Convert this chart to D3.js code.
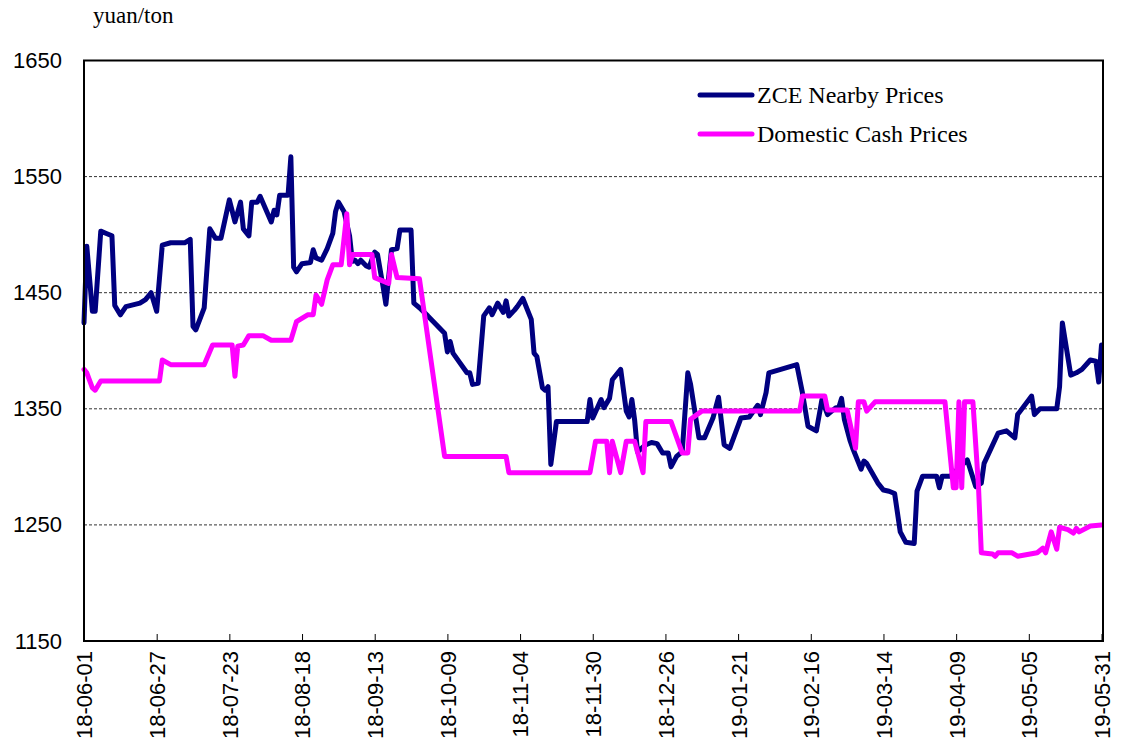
<!DOCTYPE html>
<html lang="en">
<head>
    <meta charset="UTF-8">
    <title>ZCE Nearby vs Domestic Cash Prices</title>
    <script src="https://d3js.org/d3.v7.min.js"></script>
    <style>
        body { margin: 0; background: #fff; }
        .tick-label { font-family: Arial, "Liberation Sans", sans-serif; font-size: 22px; fill: #000; }
        .serif { font-family: "Times New Roman", "Liberation Serif", serif; fill: #000; }
    </style>
</head>
<body>
<script>
    // ZCE nearby futures prices (yuan/ton)
    const zceDates = [
        "2018-06-01","2018-06-02","2018-06-04","2018-06-05","2018-06-07","2018-06-09","2018-06-11","2018-06-12",
        "2018-06-14","2018-06-16","2018-06-21","2018-06-23","2018-06-25","2018-06-27","2018-06-29","2018-07-02",
        "2018-07-07","2018-07-09","2018-07-10","2018-07-11","2018-07-14","2018-07-16","2018-07-18","2018-07-20",
        "2018-07-23","2018-07-25","2018-07-27","2018-07-28","2018-07-30","2018-07-31","2018-08-02","2018-08-03",
        "2018-08-07","2018-08-08","2018-08-09","2018-08-10","2018-08-13","2018-08-14","2018-08-15","2018-08-16",
        "2018-08-18","2018-08-21","2018-08-22","2018-08-23","2018-08-25","2018-08-27","2018-08-29","2018-08-30",
        "2018-08-31","2018-09-02","2018-09-04","2018-09-05","2018-09-06","2018-09-07","2018-09-08","2018-09-10",
        "2018-09-11","2018-09-13","2018-09-14","2018-09-16","2018-09-17","2018-09-19","2018-09-21","2018-09-22",
        "2018-09-26","2018-09-27","2018-09-29","2018-10-02","2018-10-08","2018-10-09","2018-10-10","2018-10-11",
        "2018-10-16","2018-10-17","2018-10-18","2018-10-20","2018-10-22","2018-10-24","2018-10-25","2018-10-27",
        "2018-10-29","2018-10-30","2018-10-31","2018-11-02","2018-11-03","2018-11-05","2018-11-08","2018-11-09",
        "2018-11-10","2018-11-12","2018-11-13","2018-11-14","2018-11-15","2018-11-17","2018-11-28","2018-11-29",
        "2018-11-30","2018-12-03","2018-12-04","2018-12-06","2018-12-07","2018-12-10","2018-12-12","2018-12-13",
        "2018-12-14","2018-12-15","2018-12-16","2018-12-19","2018-12-21","2018-12-23","2018-12-25","2018-12-27",
        "2018-12-28","2018-12-30","2019-01-01","2019-01-03","2019-01-04","2019-01-07","2019-01-09","2019-01-12",
        "2019-01-14","2019-01-16","2019-01-18","2019-01-22","2019-01-25","2019-01-28","2019-01-29","2019-01-31",
        "2019-02-01","2019-02-11","2019-02-13","2019-02-15","2019-02-18","2019-02-20","2019-02-22","2019-02-25",
        "2019-02-26","2019-02-27","2019-02-28","2019-03-02","2019-03-03","2019-03-06","2019-03-07","2019-03-08",
        "2019-03-12","2019-03-14","2019-03-16","2019-03-18","2019-03-20","2019-03-22","2019-03-25","2019-03-26",
        "2019-03-28","2019-04-02","2019-04-03","2019-04-04","2019-04-07","2019-04-13","2019-04-16","2019-04-18",
        "2019-04-19","2019-04-24","2019-04-27","2019-04-30","2019-05-01","2019-05-06","2019-05-07","2019-05-09",
        "2019-05-15","2019-05-16","2019-05-17","2019-05-20","2019-05-22","2019-05-24","2019-05-27","2019-05-29",
        "2019-05-30","2019-05-31"
    ];
    const zcePrices = [
        1424,1490,1434,1434,1503,1501,1499,1439,
        1431,1438,1441,1444,1450,1434,1491,1493,
        1493,1496,1421,1418,1437,1505,1497,1497,
        1530,1511,1528,1505,1499,1528,1528,1533,
        1511,1521,1517,1534,1534,1567,1472,1468,
        1475,1476,1487,1480,1478,1488,1501,1520,
        1528,1520,1499,1477,1478,1475,1478,1473,
        1472,1485,1483,1455,1440,1487,1488,1504,
        1504,1441,1437,1430,1415,1399,1408,1398,
        1381,1381,1371,1372,1430,1437,1431,1441,
        1433,1443,1430,1435,1438,1445,1427,1398,
        1395,1368,1366,1369,1302,1339,1339,1358,
        1342,1358,1351,1359,1375,1384,1348,1343,
        1358,1340,1313,1319,1321,1320,1312,1312,
        1300,1309,1313,1381,1371,1325,1325,1342,
        1360,1319,1316,1342,1343,1353,1345,1364,
        1381,1388,1364,1335,1331,1358,1345,1351,
        1351,1359,1341,1323,1316,1298,1305,1303,
        1286,1280,1279,1277,1244,1235,1234,1279,
        1292,1292,1282,1292,1292,1306,1283,1286,
        1303,1329,1331,1325,1345,1361,1345,1350,
        1350,1369,1424,1379,1381,1384,1392,1391,
        1373,1405
    ];

    // Domestic cash prices (yuan/ton)
    const cashDates = [
        "2018-06-01","2018-06-02","2018-06-04","2018-06-05","2018-06-07","2018-06-28","2018-06-29","2018-07-02",
        "2018-07-14","2018-07-17","2018-07-24","2018-07-25","2018-07-26","2018-07-28","2018-07-30","2018-08-04",
        "2018-08-07","2018-08-14","2018-08-16","2018-08-20","2018-08-22","2018-08-23","2018-08-25","2018-08-27",
        "2018-08-29","2018-09-01","2018-09-03","2018-09-04","2018-09-05","2018-09-12","2018-09-13","2018-09-18",
        "2018-09-19","2018-09-21","2018-09-29","2018-10-08","2018-10-30","2018-10-31","2018-11-29","2018-12-01",
        "2018-12-05","2018-12-06","2018-12-07","2018-12-10","2018-12-12","2018-12-15","2018-12-18","2018-12-19",
        "2018-12-28","2019-01-01","2019-01-03","2019-01-04","2019-01-08","2019-02-12","2019-02-13","2019-02-21",
        "2019-02-22","2019-03-01","2019-03-04","2019-03-05","2019-03-07","2019-03-08","2019-03-11","2019-04-05",
        "2019-04-08","2019-04-09","2019-04-10","2019-04-11","2019-04-12","2019-04-15","2019-04-17","2019-04-18",
        "2019-04-22","2019-04-23","2019-04-24","2019-04-29","2019-05-01","2019-05-08","2019-05-10","2019-05-11",
        "2019-05-13","2019-05-15","2019-05-16","2019-05-19","2019-05-21","2019-05-22","2019-05-23","2019-05-27",
        "2019-05-31"
    ];
    const cashPrices = [
        1384,1381,1368,1366,1374,1374,1392,1388,
        1388,1405,1405,1378,1404,1405,1413,1413,
        1409,1409,1425,1431,1431,1448,1440,1461,
        1474,1474,1518,1474,1483,1483,1463,1458,
        1483,1463,1462,1309,1309,1295,1295,1322,
        1322,1295,1322,1295,1322,1322,1295,1339,
        1339,1312,1312,1341,1348,1348,1361,1361,
        1349,1349,1316,1356,1356,1348,1356,1356,
        1282,1282,1356,1282,1356,1356,1283,1226,
        1225,1223,1226,1226,1223,1226,1230,1226,
        1244,1229,1248,1246,1243,1247,1244,1249,
        1250
    ];

    const xTickDates = [
        "2018-06-01","2018-06-27","2018-07-23","2018-08-18","2018-09-13","2018-10-09","2018-11-04","2018-11-30",
        "2018-12-26","2019-01-21","2019-02-16","2019-03-14","2019-04-09","2019-05-05","2019-05-31"
    ];
    const yTicks = [1150, 1250, 1350, 1450, 1550, 1650];
    const gridValues = [1250, 1350, 1450, 1550];

    const seriesNames = ["ZCE Nearby Prices", "Domestic Cash Prices"];
    const seriesColors = ["#000080", "#ff00ff"];

    const width = 1121, height = 749;
    const plot = {left: 84, right: 1103, top: 60.5, bottom: 641};

    const parse = d3.timeParse("%Y-%m-%d");
    const fmt = d3.timeFormat("%y-%m-%d");

    const svg = d3.select("body").append("svg")
        .attr("width", width)
        .attr("height", height);

    const x = d3.scaleTime()
        .domain([parse("2018-06-01"), parse("2019-05-31")])
        .range([plot.left, 1101.5]);

    const y = d3.scaleLinear()
        .domain([1150, 1650])
        .range([plot.bottom, plot.top]);

    // dotted gridlines
    svg.append("g")
        .selectAll("line")
        .data(gridValues)
        .join("line")
        .attr("x1", plot.left)
        .attr("x2", plot.right)
        .attr("y1", d => y(d))
        .attr("y2", d => y(d))
        .attr("stroke", "#333")
        .attr("stroke-width", 1)
        .attr("stroke-dasharray", "3,2");

    // series lines
    const line = d3.line()
        .x(d => x(d.date))
        .y(d => y(d.value));

    const zce = zceDates.map((d, i) => ({date: parse(d), value: zcePrices[i]}));
    const cash = cashDates.map((d, i) => ({date: parse(d), value: cashPrices[i]}));

    [zce, cash].forEach((data, i) => {
        svg.append("path")
            .datum(data)
            .attr("d", line)
            .attr("fill", "none")
            .attr("stroke", seriesColors[i])
            .attr("stroke-width", 5)
            .attr("stroke-linejoin", "round")
            .attr("stroke-linecap", "round");
    });

    // plot frame
    svg.append("rect")
        .attr("x", plot.left)
        .attr("y", plot.top)
        .attr("width", plot.right - plot.left)
        .attr("height", plot.bottom - plot.top)
        .attr("fill", "none")
        .attr("stroke", "#000")
        .attr("stroke-width", 2);

    // x axis: inward ticks, rotated labels
    const xAxis = d3.axisBottom(x)
        .tickValues(xTickDates.map(parse))
        .tickSizeInner(-7)
        .tickSizeOuter(0)
        .tickFormat(fmt);

    const gx = svg.append("g")
        .attr("transform", `translate(0,${plot.bottom})`)
        .call(xAxis);
    gx.select(".domain").remove();
    gx.selectAll(".tick line").attr("stroke", "#000").attr("stroke-width", 1);
    gx.selectAll(".tick text")
        .attr("class", "tick-label")
        .attr("transform", "rotate(-90)")
        .attr("x", -10)
        .attr("y", 0)
        .attr("dy", "0.36em")
        .style("text-anchor", "end");

    // y axis labels
    const yAxis = d3.axisLeft(y)
        .tickValues(yTicks)
        .tickSize(0)
        .tickPadding(22)
        .tickFormat(d3.format("d"));
    const gy = svg.append("g")
        .attr("transform", `translate(${plot.left},0)`)
        .call(yAxis);
    gy.select(".domain").remove();
    gy.selectAll(".tick text").attr("class", "tick-label");

    // unit label
    svg.append("text")
        .attr("class", "serif")
        .attr("x", 93)
        .attr("y", 23)
        .style("font-size", "23px")
        .text("yuan/ton");

    // legend
    const legend = svg.append("g")
        .attr("transform", "translate(698,95)");
    seriesNames.forEach((name, i) => {
        legend.append("line")
            .attr("x1", 2).attr("x2", 54)
            .attr("y1", i * 39).attr("y2", i * 39)
            .attr("stroke", seriesColors[i])
            .attr("stroke-width", 5)
            .attr("stroke-linecap", "round");
        legend.append("text")
            .attr("class", "serif")
            .attr("x", 59)
            .attr("y", i * 39 + 8)
            .style("font-size", "24px")
            .text(name);
    });
</script>
</body>
</html>
